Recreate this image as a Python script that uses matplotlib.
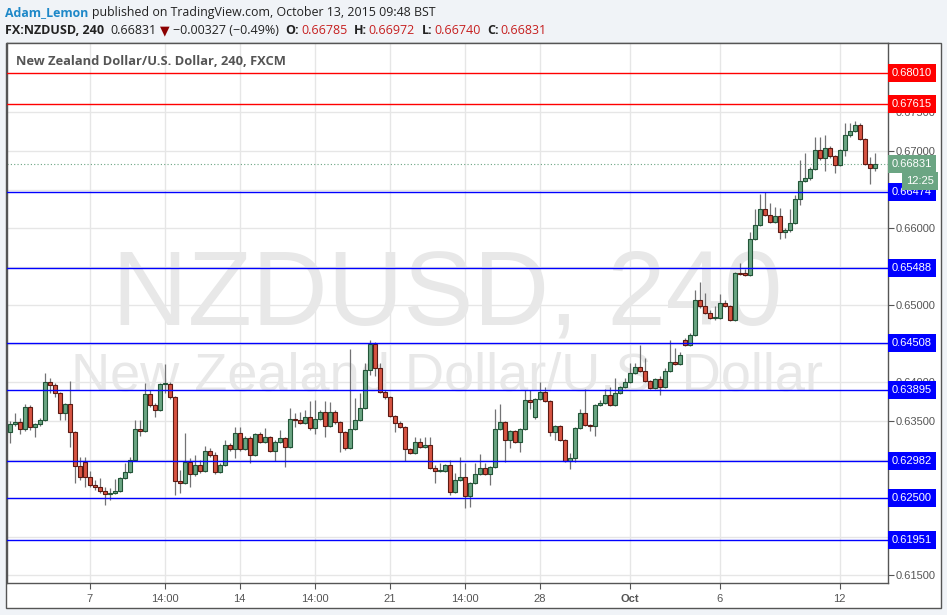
import numpy as np
import matplotlib
matplotlib.use("Agg")
import matplotlib.pyplot as plt
from matplotlib.patches import Rectangle
from matplotlib.transforms import blended_transform_factory

# ______________________________________________________________________________
# Data: FX:NZDUSD 240 (4h bars)

opens = [
    .63357, .63461, .63487, .63396, .63681, .63422, .63461, .63513, .64005, .63967,
    .63863, .63603, .63720, .63357, .62916, .62968, .62773, .62670, .62644, .62592,
    .62553, .62566, .62592, .62760, .62838, .62994, .63396, .63370, .63850, .63707,
    .63642, .63980, .63980, .63811, .62722, .62696, .62968, .62812, .62929, .62851,
    .63111, .63059, .62838, .62929, .63188, .63136, .63344, .63136, .63279, .63059,
    .63331, .63227, .63292, .63111, .63227, .63279, .63162, .63525, .63513, .63474,
    .63551, .63409, .63525, .63616, .63435, .63616, .63487, .63357, .63149, .63396,
    .63513, .63668, .64161, .64498, .64187, .63876, .63811, .63564, .63474, .63422,
    .63136, .63085, .63227, .63162, .63188, .62890, .62851, .62851, .62929, .62579,
    .62735, .62773, .62527, .62696, .62812, .62890, .62812, .62903, .63396, .63487,
    .63253, .63370, .63227, .63396, .63772, .63551, .63785, .63876, .63759, .63357,
    .63435, .63253, .62981, .63020, .63409, .63603, .63448, .63435, .63707, .63733,
    .63837, .63707, .63863, .63941, .64005, .64122, .64200, .64148, .64018, .63928,
    .64044, .63941, .64148, .64265, .64239, .64550, .64485, .64615, .65069, .64991,
    .64900, .64835, .64835, .65030, .64991, .64809, .65419, .65419, .65393, .65859,
    .66041, .66248, .66171, .66080, .66158, .65950, .65976, .66067, .66378, .66611,
    .66650, .66767, .67013, .66910, .67039, .66935, .66819, .67013, .67208, .67260,
    .67337, .67156, .66832, .66785]

highs = [
    .63500, .63603, .63538, .63720, .63707, .63474, .63538, .64122, .64057, .63992,
    .63876, .63733, .64018, .63370, .63033, .63033, .62851, .62735, .62760, .62644,
    .62631, .62747, .62773, .62955, .63033, .63513, .63513, .63992, .63902, .63733,
    .63992, .64239, .64005, .63824, .62864, .63344, .63020, .63059, .62994, .63175,
    .63149, .63098, .62955, .63253, .63214, .63422, .63422, .63305, .63305, .63344,
    .63357, .63409, .63305, .63253, .63383, .63292, .63668, .63603, .63616, .63642,
    .63759, .63772, .63642, .63759, .63746, .63642, .63500, .63370, .64433, .63798,
    .63863, .64252, .64550, .64524, .64252, .63902, .63824, .63577, .63500, .63435,
    .63149, .63292, .63279, .63292, .63292, .62929, .62955, .62942, .62994, .62825,
    .63033, .62955, .62709, .62955, .63072, .62955, .62916, .63655, .63720, .63500,
    .63383, .63383, .63409, .63902, .63902, .63798, .64005, .63941, .63772, .63448,
    .63448, .63266, .63085, .63422, .63655, .63915, .63461, .63720, .63772, .63915,
    .63941, .64057, .63954, .64057, .64252, .64252, .64485, .64317, .64031, .64057,
    .64083, .64187, .64550, .64446, .64394, .64576, .64641, .65198, .65302, .65160,
    .64939, .64991, .65147, .65069, .65004, .65432, .65548, .65470, .65950, .66248,
    .66443, .66469, .66326, .66274, .66261, .66002, .66248, .66430, .66884, .66974,
    .66793, .67182, .67182, .67208, .67065, .66948, .67026, .67363, .67363, .67389,
    .67363, .67169, .66922, .66972]

lows = [
    .63214, .63435, .63331, .63370, .63383, .63292, .63435, .63500, .63863, .63811,
    .63513, .63513, .63162, .62696, .62735, .62644, .62644, .62605, .62566, .62411,
    .62476, .62553, .62579, .62747, .62825, .62981, .63305, .63357, .63681, .63551,
    .63629, .63863, .63785, .62540, .62566, .62683, .62644, .62786, .62825, .62838,
    .63033, .62812, .62825, .62916, .63111, .63020, .63111, .63124, .62955, .63046,
    .63214, .63214, .63098, .62981, .63214, .62903, .63149, .63422, .63461, .63461,
    .63383, .63331, .63513, .63292, .63422, .63461, .63098, .63124, .63136, .63383,
    .63500, .63655, .64096, .64083, .63863, .63785, .63551, .63357, .63409, .62981,
    .63072, .63072, .63149, .63149, .62877, .62696, .62838, .62838, .62540, .62566,
    .62722, .62372, .62385, .62683, .62799, .62799, .62670, .62890, .63383, .62968,
    .63149, .63214, .63098, .63383, .63655, .63525, .63772, .63746, .63305, .63253,
    .63240, .62968, .62877, .62968, .63396, .63435, .63370, .63305, .63694, .63720,
    .63694, .63694, .63850, .63928, .63992, .64109, .64135, .64005, .63915, .63915,
    .63837, .63928, .64135, .64226, .64226, .64472, .64472, .64602, .64965, .64887,
    .64822, .64809, .64822, .64978, .64796, .64796, .65393, .65380, .65380, .65846,
    .66028, .66158, .66067, .66067, .65859, .65872, .65950, .66054, .66300, .66598,
    .66624, .66754, .66884, .66741, .66910, .66715, .66806, .66935, .67182, .67247,
    .67143, .66819, .66572, .66740]

closes = [
    .63461, .63487, .63396, .63681, .63422, .63461, .63513, .64005, .63967, .63863,
    .63603, .63720, .63357, .62916, .62773, .62773, .62670, .62644, .62592, .62553,
    .62566, .62592, .62760, .62838, .62994, .63396, .63370, .63850, .63707, .63642,
    .63980, .63992, .63811, .62722, .62696, .62968, .62812, .62929, .62851, .63111,
    .63059, .62838, .62929, .63188, .63136, .63344, .63136, .63279, .63059, .63331,
    .63227, .63292, .63111, .63227, .63279, .63162, .63525, .63513, .63474, .63551,
    .63409, .63525, .63616, .63435, .63616, .63487, .63357, .63149, .63396, .63513,
    .63668, .64161, .64498, .64187, .63876, .63811, .63564, .63474, .63422, .63136,
    .63085, .63227, .63162, .63188, .62890, .62851, .62864, .62929, .62579, .62735,
    .62773, .62527, .62696, .62812, .62890, .62812, .62903, .63396, .63487, .63253,
    .63370, .63227, .63396, .63772, .63746, .63785, .63876, .63759, .63357, .63435,
    .63253, .62981, .63020, .63409, .63603, .63448, .63435, .63707, .63733, .63837,
    .63707, .63863, .63941, .64005, .64122, .64200, .64148, .64018, .63928, .64044,
    .63941, .64148, .64265, .64239, .64356, .64485, .64615, .65069, .64991, .64900,
    .64835, .64848, .65030, .64991, .64809, .65419, .65406, .65393, .65859, .66041,
    .66248, .66171, .66080, .66158, .65950, .65976, .66067, .66378, .66611, .66650,
    .66767, .67013, .66910, .67039, .66935, .66819, .67013, .67208, .67260, .67337,
    .67156, .66832, .66780, .66831]

# horizontal levels drawn on the chart
level_prices = [0.68010, 0.67615, 0.66474, 0.65488, 0.64508, 0.63895, 0.62982, 0.62500, 0.61951]
level_colors = ['#ff0000', '#ff0000', '#0000ff', '#0000ff', '#0000ff',
                '#0000ff', '#0000ff', '#0000ff', '#0000ff']

last_price = 0.66831
countdown = "12:25"

# time axis: bar index of each label
xtick_pos = [16, 31, 46, 61, 76, 91, 106, 124, 142, 166]
xtick_lab = ["7", "14:00", "14", "14:00", "21", "14:00", "28", "Oct", "6", "12"]

# price scale: labels hidden under the level boxes are left blank
price_ticks = [0.615, 0.620, 0.625, 0.630, 0.635, 0.640, 0.645,
               0.650, 0.655, 0.660, 0.665, 0.670, 0.675]
price_labels = ["0.61500", "", "", "", "0.63500", "0.64000", "",
                "0.65000", "", "0.66000", "", "0.67000", "0.67500"]

# ______________________________________________________________________________
# Style

UP, UP_EDGE = '#6ba583', '#225437'
DN, DN_EDGE = '#d75442', '#5b1a13'
WICK = '#737375'
HDR = ['Open Sans', 'DejaVu Sans']
AXF = ['Liberation Sans', 'DejaVu Sans']

plt.rcParams['font.family'] = AXF

W, H = 947, 615
fig = plt.figure(figsize=(W / 100, H / 100), dpi=100, facecolor='#f0f3f7')


def fx(x):
    return x / W


def fy(y):
    return 1 - y / H


# white chart panel with its border (behind the axes)
fig.patches.append(Rectangle((fx(6), fy(608)), fx(941) - fx(6), fy(43) - fy(608),
                             transform=fig.transFigure, facecolor='white',
                             edgecolor='#555555', lw=1, zorder=-5))

ax = fig.add_axes([fx(6.5), fy(583), fx(888) - fx(6.5), fy(43) - fy(583)])
ax.set_facecolor('white')

# ______________________________________________________________________________
# Candles

o = np.array(opens)
h = np.array(highs)
l = np.array(lows)
c = np.array(closes)
idx = np.arange(len(o))
up = c >= o
lo = np.minimum(o, c)
hh = np.maximum(np.abs(c - o), 0.00002)

ax.vlines(idx, l, h, color=WICK, lw=0.9, zorder=3)
ax.bar(idx[up], hh[up], bottom=lo[up], width=0.8, color=UP, edgecolor=UP_EDGE, lw=0.8, zorder=4)
ax.bar(idx[~up], hh[~up], bottom=lo[~up], width=0.8, color=DN, edgecolor=DN_EDGE, lw=0.8, zorder=4)

# levels
for p, col in zip(level_prices, level_colors):
    ax.axhline(p, color=col, lw=1, zorder=5)
ax.axhline(last_price, color=UP, lw=0.8, ls=(0, (1, 2)), zorder=2)

ax.set_xlim(-0.6, 175.7)
ax.set_ylim(0.61399, 0.68400)

# watermark
ax.text(0.5, 0.478, "NZDUSD, 240", transform=ax.transAxes, ha='center', va='baseline',
        fontsize=75.5, color='#e8e8e8', zorder=1)
ax.text(0.5, 0.357, "New Zealand Dollar/U.S. Dollar", transform=ax.transAxes, ha='center',
        va='baseline', fontsize=39, color='#e8e8e8', zorder=1)

ax.text(9 / 881.5, 1 - 22.3 / 540, "New Zealand Dollar/U.S. Dollar, 240, FXCM",
        transform=ax.transAxes, ha='left', va='baseline', fontsize=9.3,
        fontweight='bold', color='#555555', family=HDR, zorder=6)

# ______________________________________________________________________________
# Axes

ax.grid(True, color='#e6e6e6', lw=1)
ax.set_axisbelow(True)
for s in ax.spines.values():
    s.set_color('#555555')
    s.set_linewidth(1)

ax.yaxis.tick_right()
ax.set_yticks(price_ticks)
ax.set_yticklabels(price_labels)
ax.tick_params(axis='y', length=4, width=0.8, color='#555555', labelcolor='#555555',
               labelsize=8, pad=1.5)

ax.set_xticks(xtick_pos)
ax.set_xticklabels(xtick_lab)
ax.tick_params(axis='x', length=4, width=0.8, color='#555555', labelcolor='#555555',
               labelsize=8, pad=4)
ax.get_xticklabels()[7].set_fontweight('bold')

# price labels on the right scale
tr = blended_transform_factory(ax.transAxes, ax.transData)
for p, col in zip(level_prices, level_colors):
    ax.text(1 + 3.8 / 881.5, p, f"{p:.5f}", transform=tr, color='white', fontsize=8,
            va='center', ha='left', clip_on=False, zorder=10,
            bbox=dict(boxstyle='square,pad=0.36', fc=col, ec='none'))
ax.text(1 + 3.8 / 881.5, last_price, f"{last_price:.5f}", transform=tr, color='white',
        fontsize=8, va='center', ha='left', clip_on=False, zorder=11,
        bbox=dict(boxstyle='square,pad=0.36', fc=UP, ec='none'))
ax.text(1 + 45.5 / 881.5, 0.66611, countdown, transform=tr, color='white',
        fontsize=8, va='center', ha='right', clip_on=False, zorder=11,
        bbox=dict(boxstyle='square,pad=0.36', fc=UP, ec='none'))

# ______________________________________________________________________________
# Header

r = fig.canvas.get_renderer()


def write(x, y, parts, size=9):
    for txt, col, wt, gap in parts:
        t = fig.text(fx(x), fy(y), txt, color=col, fontsize=size, fontweight=wt,
                     family=HDR, va='baseline', ha='left')
        x += t.get_window_extent(r).width + gap


write(5, 16, [("Adam_Lemon", '#1e88c8', 'bold', 4),
              ("published on TradingView.com, October 13, 2015 09:48 BST", '#222222', 'normal', 0)],
      size=8.9)

RED = '#c62020'
write(5, 34.5, [("FX:NZDUSD, 240", '#222222', 'bold', 6),
                ("0.66831", '#222222', 'normal', 4),
                ("\u25bc", '#8b0000', 'normal', 3),
                ("\u22120.00327 (\u22120.49%)", '#222222', 'normal', 7),
                ("O:", '#222222', 'bold', 1.5), ("0.66785", RED, 'normal', 7),
                ("H:", '#222222', 'bold', 1.5), ("0.66972", RED, 'normal', 7),
                ("L:", '#222222', 'bold', 1.5), ("0.66740", RED, 'normal', 7),
                ("C:", '#222222', 'bold', 1.5), ("0.66831", RED, 'normal', 0)])

fig.savefig("out.png", dpi=100, facecolor=fig.get_facecolor())
